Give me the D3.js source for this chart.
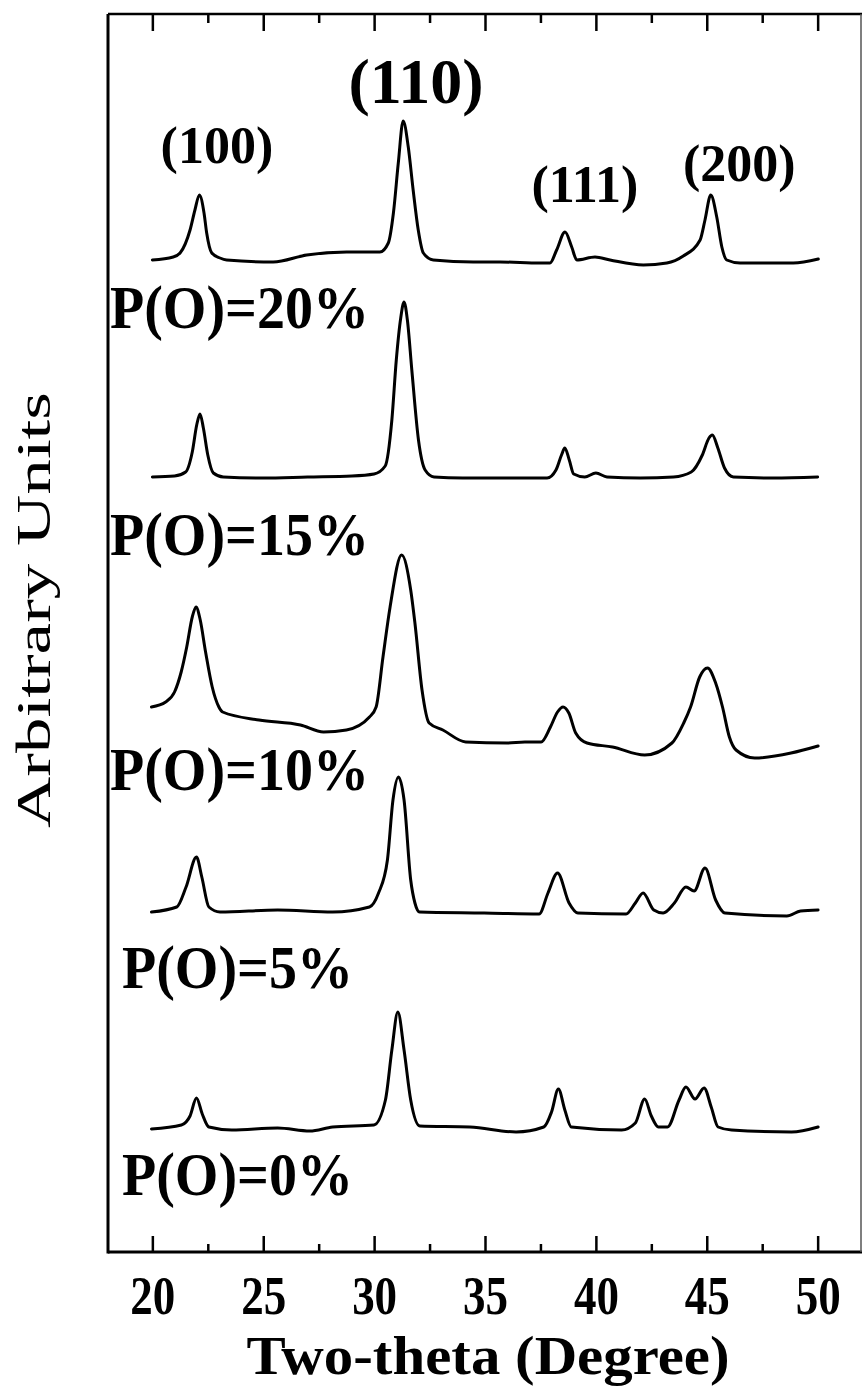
<!DOCTYPE html>
<html>
<head>
<meta charset="utf-8">
<script src="https://cdn.jsdelivr.net/npm/d3@7/dist/d3.min.js"></script>
<style>
  html, body { margin: 0; padding: 0; background: #fff; }
  svg { display: block; }
  text { font-family: "Liberation Serif", "Times New Roman", serif; fill: #000; }
</style>
</head>
<body>
<svg id="chart" width="863" height="1386"></svg>
<script>
// XRD patterns (two-theta in degrees, intensity in arbitrary units, stacked)
const theta0  = [19.96, 21.31, 21.7, 21.99, 22.25, 22.55, 23.58, 25.65, 27.10, 28.13, 29.99, 30.51, 30.8, 31.07, 31.35, 31.65, 32.06, 34.32, 36.40, 37.65, 38.0, 38.31, 38.6, 38.89, 41.16, 41.78, 42.20, 42.5, 42.82, 43.23, 43.75, 44.06, 44.47, 44.88, 45.2, 45.51, 46.12, 48.82, 50.02];
const counts0 = [12.3, 12.7, 13.6, 15.4, 13.8, 12.5, 12.2, 12.4, 12.1, 12.5, 12.7, 15.2, 20.2, 24.0, 20.2, 15.2, 12.6, 12.5, 12.0, 12.5, 14.0, 16.3, 14.2, 12.5, 12.2, 12.9, 15.3, 13.6, 12.5, 12.5, 15.2, 16.5, 15.3, 16.4, 14.5, 12.5, 12.2, 12.0, 12.5];

const theta5  = [19.96, 21.10, 21.52, 21.99, 22.23, 22.55, 23.05, 25.65, 28.13, 29.79, 30.20, 30.6, 30.85, 31.1, 31.35, 31.65, 31.84, 32.05, 34.96, 37.44, 37.84, 38.27, 38.79, 39.19, 41.36, 41.78, 42.13, 42.61, 43.03, 43.54, 44.06, 44.43, 44.92, 45.40, 45.82, 48.61, 49.23, 50.02];
const counts5 = [34.0, 34.5, 36.5, 39.5, 37.5, 34.5, 34.0, 34.2, 34.0, 34.5, 35.9, 39.2, 45.2, 47.5, 45.2, 37.2, 34.9, 34.0, 33.9, 33.8, 35.9, 37.9, 34.9, 33.9, 33.8, 34.9, 35.9, 34.2, 33.9, 34.9, 36.5, 36.1, 38.4, 35.2, 33.9, 33.6, 34.1, 34.2];

const theta10  = [19.96, 20.6, 21.0, 21.3, 21.55, 21.8, 21.97, 22.15, 22.4, 22.7, 23.0, 23.17, 24.81, 26.68, 27.72, 28.75, 29.79, 30.09, 30.40, 30.72, 31.24, 31.65, 31.84, 32.16, 32.48, 33.10, 34.13, 35.99, 36.80, 37.53, 37.95, 38.27, 38.52, 38.78, 39.09, 39.60, 40.75, 42.20, 43.43, 43.96, 44.27, 44.68, 45.03, 45.40, 45.71, 46.02, 46.32, 47.16, 48.80, 50.02];
const counts10 = [54.5, 55.0, 56.0, 58.0, 60.5, 63.5, 64.5, 63.3, 60.0, 56.5, 54.5, 54.0, 53.2, 52.7, 52.0, 52.2, 53.5, 54.5, 59.5, 64.5, 69.7, 66.2, 62.9, 56.2, 52.9, 52.2, 51.0, 50.9, 51.0, 51.0, 52.5, 54.0, 54.5, 53.9, 51.9, 50.9, 50.5, 49.7, 50.9, 52.9, 54.5, 57.5, 58.4, 56.9, 54.5, 51.5, 50.2, 49.4, 49.9, 50.6];

const theta15  = [20.0, 21.0, 21.5, 21.8, 22.0, 22.15, 22.3, 22.5, 22.75, 23.2, 25.0, 27.0, 29.0, 30.0, 30.5, 30.8, 31.0, 31.2, 31.35, 31.5, 31.7, 32.0, 32.3, 32.7, 34.0, 36.0, 37.8, 38.2, 38.45, 38.6, 38.8, 39.0, 39.5, 40.0, 40.5, 42.0, 43.5, 44.3, 44.8, 45.1, 45.25, 45.5, 45.8, 46.2, 48.0, 50.0];
const counts15 = [77.5, 77.6, 78.0, 80.0, 82.7, 83.8, 82.4, 79.7, 77.9, 77.5, 77.4, 77.5, 77.6, 77.8, 78.6, 83.2, 89.2, 93.4, 95.0, 93.2, 88.2, 81.2, 78.2, 77.5, 77.4, 77.4, 77.4, 78.2, 79.7, 80.4, 79.2, 77.8, 77.5, 77.9, 77.5, 77.4, 77.5, 78.0, 79.7, 81.4, 81.7, 80.4, 78.4, 77.5, 77.4, 77.5];

const theta20  = [20.0, 20.94, 21.25, 21.70, 21.92, 22.12, 22.33, 22.45, 22.68, 23.05, 23.35, 25.45, 26.96, 28.76, 30.26, 30.64, 30.87, 31.09, 31.31, 31.54, 31.76, 31.99, 32.22, 32.67, 34.47, 35.68, 37.48, 37.93, 38.23, 38.61, 38.91, 39.14, 39.96, 40.64, 42.14, 43.2, 43.94, 44.70, 44.92, 45.18, 45.45, 45.68, 45.90, 46.50, 48.90, 50.03];
const counts20 = [99.2, 99.5, 99.9, 102.2, 104.2, 105.7, 103.9, 101.9, 99.9, 99.4, 99.2, 99.0, 99.7, 100.0, 100.0, 100.9, 103.9, 108.9, 113.1, 110.5, 106.2, 102.2, 99.9, 99.2, 99.0, 99.0, 98.9, 98.9, 100.2, 102.0, 100.5, 99.2, 99.5, 99.2, 98.7, 98.9, 99.6, 101.2, 103.2, 105.7, 103.5, 100.5, 99.2, 98.9, 98.9, 99.3];

const seriesLabels = ["P(O)=0%", "P(O)=5%", "P(O)=10%", "P(O)=15%", "P(O)=20%"];
const seriesThetas = [theta0, theta5, theta10, theta15, theta20];
const seriesCounts = [counts0, counts5, counts10, counts15, counts20];

// Miller indices of the reflections and where each is seen
const peakLabels = ["(100)", "(110)", "(111)", "(200)"];
const peakTheta  = [22.1, 31.3, 38.6, 45.2];

const majorTicks = [20, 25, 30, 35, 40, 45, 50];
const minorTicks = [22.5, 27.5, 32.5, 37.5, 42.5, 47.5];

// ---- layout ----
const plot = { left: 108, right: 862, top: 14, bottom: 1252 };
const stretch = 1.2; // tick digits are drawn taller than wide

const svg = d3.select("#chart");
const x = d3.scaleLinear().domain([18, 52]).range([plot.left, plot.right]);
const y = d3.scaleLinear().domain([0, 123.8]).range([plot.bottom, plot.top]);

// traces
const line = d3.line().x(d => x(d[0])).y(d => y(d[1])).curve(d3.curveMonotoneX);
seriesThetas.forEach((th, i) => {
  const pts = th.map((t, j) => [t, seriesCounts[i][j]]);
  svg.append("path")
    .datum(pts)
    .attr("d", line)
    .attr("fill", "none")
    .attr("stroke", "#000")
    .attr("stroke-width", 3)
    .attr("stroke-linejoin", "round")
    .attr("stroke-linecap", "round");
});

// axes: bottom with labels, top mirrored, ticks pointing inward
const bottomMajor = svg.append("g")
  .attr("transform", `translate(0,${plot.bottom})`)
  .call(d3.axisBottom(x).tickValues(majorTicks).tickSize(-16).tickPadding(0).tickFormat(d3.format("d")));
const bottomMinor = svg.append("g")
  .attr("transform", `translate(0,${plot.bottom})`)
  .call(d3.axisBottom(x).tickValues(minorTicks).tickSize(-8).tickFormat(""));
const topMajor = svg.append("g")
  .attr("transform", `translate(0,${plot.top})`)
  .call(d3.axisTop(x).tickValues(majorTicks).tickSize(-17).tickFormat(""));
const topMinor = svg.append("g")
  .attr("transform", `translate(0,${plot.top})`)
  .call(d3.axisTop(x).tickValues(minorTicks).tickSize(-9).tickFormat(""));

[bottomMajor, bottomMinor, topMajor, topMinor].forEach(g => {
  g.select(".domain").remove();
  g.selectAll(".tick line").attr("stroke", "#000").attr("stroke-width", 2.5);
});

bottomMajor.selectAll(".tick text")
  .attr("y", null).attr("dy", null)
  .attr("transform", `translate(0,62) scale(1,${stretch})`)
  .attr("font-size", 45)
  .attr("font-weight", "bold")
  .attr("text-anchor", "middle")
  .style("font-family", "'Liberation Serif', serif")
  .attr("fill", "#000");

// frame
svg.append("line").attr("x1", plot.left).attr("x2", plot.right).attr("y1", plot.top).attr("y2", plot.top)
  .attr("stroke", "#000").attr("stroke-width", 2.5);
svg.append("line").attr("x1", plot.left).attr("x2", plot.right).attr("y1", plot.bottom).attr("y2", plot.bottom)
  .attr("stroke", "#000").attr("stroke-width", 3);
svg.append("line").attr("x1", plot.left).attr("x2", plot.left).attr("y1", plot.top).attr("y2", plot.bottom + 1.5)
  .attr("stroke", "#000").attr("stroke-width", 3);
svg.append("line").attr("x1", plot.right - 1).attr("x2", plot.right - 1).attr("y1", plot.top).attr("y2", plot.bottom)
  .attr("stroke", "#555").attr("stroke-width", 1.5);

// axis titles
svg.append("text")
  .attr("transform", `translate(${(plot.left + plot.right) / 2 + 3},1374) scale(1.09,1)`)
  .attr("text-anchor", "middle")
  .attr("font-size", 54)
  .attr("font-weight", "bold")
  .text("Two-theta (Degree)");

svg.append("text")
  .attr("transform", `translate(50,610) rotate(-90) scale(1.45,1)`)
  .attr("text-anchor", "middle")
  .attr("font-size", 49)
  .text("Arbitrary Units");

// sample labels, each under its own trace
const labelBaseline = [1195, 988, 790, 555, 328];
const labelLeft = [122, 122, 110, 110, 110];
seriesLabels.forEach((s, i) => {
  svg.append("text")
    .attr("transform", `translate(${labelLeft[i]},${labelBaseline[i]}) scale(1,1.08)`)
    .attr("font-size", 56)
    .attr("font-weight", "bold")
    .text(s);
});

// reflection labels above the top trace
const peakLabelDy = [-32, -18, -30, -14];
const peakLabelDx = [18, 13, 20, 28];
const peakLabelSize = [52, 64, 52, 52];
peakLabels.forEach((p, i) => {
  const topVal = d3.max(theta20.map((t, j) => Math.abs(t - peakTheta[i]) < 0.6 ? counts20[j] : -Infinity));
  svg.append("text")
    .attr("transform", `translate(${x(peakTheta[i]) + peakLabelDx[i]},${y(topVal) + peakLabelDy[i]})`)
    .attr("text-anchor", "middle")
    .attr("font-size", peakLabelSize[i])
    .attr("font-weight", "bold")
    .text(p);
});
</script>
</body>
</html>
